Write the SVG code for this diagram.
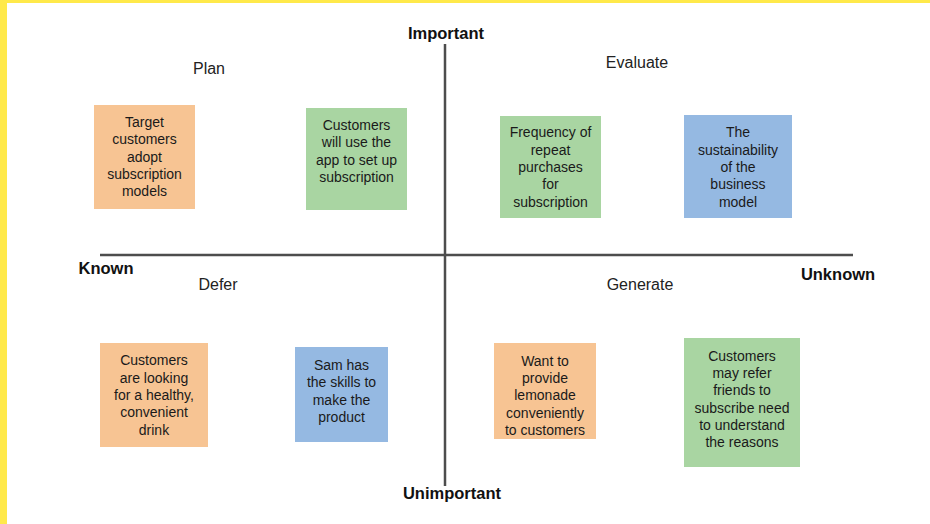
<svg xmlns="http://www.w3.org/2000/svg" width="930" height="524" viewBox="0 0 930 524">
  <style>
    .axis { stroke: #4d4d4d; stroke-width: 2.5; fill: none; }
    .pole { font-family: "Liberation Sans", Arial, sans-serif; font-weight: bold; font-size: 16.5px; fill: #111; text-anchor: middle; }
    .zone { font-family: "Liberation Sans", Arial, sans-serif; font-size: 16px; fill: #222; text-anchor: middle; }
    .note { font-family: "Liberation Sans", Arial, sans-serif; font-size: 14px; fill: #1a1a1a; text-anchor: middle; }
    .orange { fill: #F7C493; }
    .green { fill: #A9D5A2; }
    .blue { fill: #95B9E2; }
  </style>

  <!-- page background and frame -->
  <rect x="0" y="0" width="930" height="524" fill="#ffffff"/>
  <rect x="0" y="0" width="930" height="3" fill="#FFE94A"/>
  <rect x="0" y="0" width="7" height="524" fill="#FFE94A"/>

  <!-- axes -->
  <g id="connectors">
    <line class="axis" x1="445" y1="44" x2="445" y2="486"/>
    <line class="axis" x1="100" y1="255" x2="853" y2="255"/>
  </g>

  <!-- axis poles -->
  <g id="pole-important"><text class="pole" x="446" y="39">Important</text></g>
  <g id="pole-unimportant"><text class="pole" x="452" y="499">Unimportant</text></g>
  <g id="pole-known"><text class="pole" x="106" y="274">Known</text></g>
  <g id="pole-unknown"><text class="pole" x="838" y="280">Unknown</text></g>

  <!-- quadrant titles -->
  <g id="zone-plan"><text class="zone" x="209" y="74">Plan</text></g>
  <g id="zone-evaluate"><text class="zone" x="637" y="68">Evaluate</text></g>
  <g id="zone-defer"><text class="zone" x="218" y="290">Defer</text></g>
  <g id="zone-generate"><text class="zone" x="640" y="290">Generate</text></g>

  <!-- Plan -->
  <g id="note-target-customers">
    <rect class="orange" x="94" y="105" width="101" height="104"/>
    <text class="note" x="144.5" y="127">Target</text>
    <text class="note" x="144.5" y="144">customers</text>
    <text class="note" x="144.5" y="162">adopt</text>
    <text class="note" x="144.5" y="179">subscription</text>
    <text class="note" x="144.5" y="196">models</text>
  </g>
  <g id="note-app-setup">
    <rect class="green" x="306" y="108" width="101" height="102"/>
    <text class="note" x="356.5" y="130">Customers</text>
    <text class="note" x="356.5" y="147">will use the</text>
    <text class="note" x="356.5" y="165">app to set up</text>
    <text class="note" x="356.5" y="182">subscription</text>
  </g>

  <!-- Evaluate -->
  <g id="note-repeat-purchases">
    <rect class="green" x="500" y="116" width="101" height="102"/>
    <text class="note" x="550.5" y="137">Frequency of</text>
    <text class="note" x="550.5" y="155">repeat</text>
    <text class="note" x="550.5" y="172">purchases</text>
    <text class="note" x="550.5" y="189">for</text>
    <text class="note" x="550.5" y="207">subscription</text>
  </g>
  <g id="note-sustainability">
    <rect class="blue" x="684" y="115" width="108" height="103"/>
    <text class="note" x="738" y="137">The</text>
    <text class="note" x="738" y="155">sustainability</text>
    <text class="note" x="738" y="172">of the</text>
    <text class="note" x="738" y="189">business</text>
    <text class="note" x="738" y="207">model</text>
  </g>

  <!-- Defer -->
  <g id="note-healthy-drink">
    <rect class="orange" x="100" y="343" width="108" height="104"/>
    <text class="note" x="154" y="365">Customers</text>
    <text class="note" x="154" y="383">are looking</text>
    <text class="note" x="154" y="400">for a healthy,</text>
    <text class="note" x="154" y="417">convenient</text>
    <text class="note" x="154" y="435">drink</text>
  </g>
  <g id="note-sam-skills">
    <rect class="blue" x="295" y="347" width="93" height="95"/>
    <text class="note" x="341.5" y="370">Sam has</text>
    <text class="note" x="341.5" y="387">the skills to</text>
    <text class="note" x="341.5" y="405">make the</text>
    <text class="note" x="341.5" y="422">product</text>
  </g>

  <!-- Generate -->
  <g id="note-lemonade">
    <rect class="orange" x="494" y="343" width="102" height="96"/>
    <text class="note" x="545" y="366">Want to</text>
    <text class="note" x="545" y="383">provide</text>
    <text class="note" x="545" y="400">lemonade</text>
    <text class="note" x="545" y="418">conveniently</text>
    <text class="note" x="545" y="435">to customers</text>
  </g>
  <g id="note-referrals">
    <rect class="green" x="684" y="338" width="116" height="129"/>
    <text class="note" x="742" y="361">Customers</text>
    <text class="note" x="742" y="378">may refer</text>
    <text class="note" x="742" y="395">friends to</text>
    <text class="note" x="742" y="413">subscribe need</text>
    <text class="note" x="742" y="430">to understand</text>
    <text class="note" x="742" y="447">the reasons</text>
  </g>
</svg>
